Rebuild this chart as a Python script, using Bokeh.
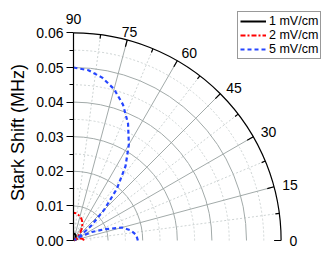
import numpy as np
from bokeh.plotting import figure
from bokeh.models import (FixedTicker, PrintfTickFormatter, Legend, LegendItem,
                          ColumnDataSource, Range1d, LinearAxis)
from bokeh.core.properties import value
from bokeh.embed import file_html
from bokeh.resources import INLINE

# ---- data ----
angles_deg = [0, 5, 10, 15, 20, 25, 30, 32, 35, 40, 45, 50, 55, 60, 65, 70, 75, 80, 85, 90]
shift_1 = [0.00074, 0.00073, 0.00067, 0.00058, 0.00038, 0.00023, 0.00008, 0.0, 0.0001, 0.00027,
           0.0005, 0.00078, 0.00105, 0.00128, 0.00149, 0.00167, 0.00181, 0.00191, 0.00198, 0.0020]
shift_2 = [0.0030, 0.0029, 0.0027, 0.0023, 0.0015, 0.0009, 0.0003, 0.0, 0.0004, 0.0011,
           0.0020, 0.0031, 0.0042, 0.0051, 0.0060, 0.0067, 0.0072, 0.0076, 0.0079, 0.0080]
shift_5 = [0.0186, 0.0182, 0.0168, 0.0145, 0.0095, 0.0058, 0.0020, 0.0003, 0.0025, 0.0067,
           0.0125, 0.0195, 0.0262, 0.0320, 0.0373, 0.0418, 0.0453, 0.0478, 0.0494, 0.0500]
series_labels = ["1 mV/cm", "2 mV/cm", "5 mV/cm"]
radial_ticks = [0.0, 0.01, 0.02, 0.03, 0.04, 0.05, 0.06]
radial_minor = [0.005, 0.015, 0.025, 0.035, 0.045, 0.055]
angle_ticks = [0, 15, 30, 45, 60, 75, 90]
angle_minor = [7.5, 22.5, 37.5, 52.5, 67.5, 82.5]
r_max = 0.06

FONT = "Liberation Sans"
S = 3460.0  # px per data unit
W, H = 332, 254
OX, OY = 73, 240  # page position of the origin
TOP = 10           # frame top
x_end = (W - OX) / S
y_start = -(H - OY) / S
y_end = (OY - TOP) / S

p = figure(width=W, height=H, output_backend="svg", toolbar_location=None,
           x_axis_location=None, y_axis_location="left",
           x_range=Range1d(0, x_end), y_range=Range1d(y_start, y_end),
           min_border_left=OX, min_border_right=0, min_border_top=TOP, min_border_bottom=0)
p.outline_line_color = None
p.grid.visible = False
p.background_fill_color = "white"

# y axis (radial)
ax = p.yaxis[0]
ax.bounds = (0, r_max)
ax.ticker = FixedTicker(ticks=radial_ticks, minor_ticks=radial_minor)
ax.formatter = PrintfTickFormatter(format="%.2f")
ax.axis_line_color = "black"
ax.axis_line_width = 1.2
ax.major_tick_line_color = "black"
ax.minor_tick_line_color = "black"
ax.major_tick_out = 7
ax.major_tick_in = 0
ax.minor_tick_out = 4
ax.minor_tick_in = 0
ax.major_label_standoff = 3
ax.major_label_text_font = FONT
ax.major_label_text_font_size = "14px"
ax.major_label_text_color = "black"
ax.axis_label = "Stark Shift (MHz)"
ax.axis_label_text_font = FONT
ax.axis_label_text_font_size = "18px"
ax.axis_label_text_font_style = "normal"
ax.axis_label_text_color = "black"
ax.axis_label_standoff = 5

# top axis carrying the 90-degree label at x = 0 (label pulled down over the frame edge)
top_ax = LinearAxis(ticker=FixedTicker(ticks=[0]), major_label_overrides={0: str(angle_ticks[-1])})
top_ax.axis_line_color = None
top_ax.major_tick_line_color = None
top_ax.minor_tick_line_color = None
top_ax.major_tick_out = 0
top_ax.major_tick_in = 0
top_ax.major_label_standoff = -13
top_ax.major_label_text_font = FONT
top_ax.major_label_text_font_size = "14px"
top_ax.major_label_text_color = "black"
p.add_layout(top_ax, "above")

half = np.pi / 2
# minor grid (dotted)
p.arc(x=0, y=0, radius=radial_minor, start_angle=0, end_angle=half,
      line_color="#cdd3d3", line_width=1, line_dash="2 2")
am = np.radians(angle_minor)
p.segment(x0=0, y0=0, x1=r_max * np.cos(am), y1=r_max * np.sin(am),
          line_color="#cdd3d3", line_width=1, line_dash="2 2")
# major grid (solid)
p.arc(x=0, y=0, radius=radial_ticks[1:-1], start_angle=0, end_angle=half,
      line_color="#a2aaa9", line_width=1)
aM = np.radians(angle_ticks[1:-1])
p.segment(x0=0, y0=0, x1=r_max * np.cos(aM), y1=r_max * np.sin(aM),
          line_color="#a2aaa9", line_width=1)
# outer arc + ticks
p.arc(x=0, y=0, radius=r_max, start_angle=0, end_angle=half, line_color="black", line_width=1.2)
at = np.radians(angle_ticks[:-1])
tl = 7.0 / S
p.segment(x0=r_max * np.cos(at), y0=r_max * np.sin(at),
          x1=(r_max - tl) * np.cos(at), y1=(r_max - tl) * np.sin(at),
          line_color="black", line_width=1.2)
tm = 4.0 / S
p.segment(x0=r_max * np.cos(am), y0=r_max * np.sin(am),
          x1=(r_max - tm) * np.cos(am), y1=(r_max - tm) * np.sin(am),
          line_color="black", line_width=1.2)

# angle labels (0..75; 90 sits on the top axis)
lab_r = r_max + 8.5 / S
for a in angle_ticks[:-1]:
    t = np.radians(a)
    align = "center" if a >= 75 else "left"
    base = "middle" if a <= 15 else "alphabetic"
    p.text(x=[lab_r * np.cos(t)], y=[lab_r * np.sin(t)], text=[str(a)],
           text_font=value(FONT), text_font_size="14px", text_color="black",
           text_align=align, text_baseline=base)

# curves
th = np.radians(angles_deg)
styles = [("black", "solid", 2), ("#ff0000", "5 2 2 2", 2), ("#2646ff", "4 3", 2.2)]
renderers = []
for vals, (col, dash, lw) in zip([shift_1, shift_2, shift_5], styles):
    r = np.array(vals)
    src = ColumnDataSource(dict(x=r * np.cos(th), y=r * np.sin(th)))
    rr = p.line("x", "y", source=src, line_color=col, line_dash=dash, line_width=lw)
    renderers.append(rr)

legend = Legend(items=[LegendItem(label=l, renderers=[r]) for l, r in zip(series_labels, renderers)],
                location=(237 - OX, H - 59))
legend.label_text_font = FONT
legend.label_text_font_size = "12.5px"
legend.label_text_color = "black"
legend.glyph_width = 26
legend.glyph_height = 14
legend.label_height = 14
legend.label_standoff = 3
legend.spacing = 0
legend.padding = 2
legend.margin = 0
legend.border_line_color = "#333333"
legend.border_line_width = 1
legend.background_fill_color = "white"
legend.background_fill_alpha = 1
p.add_layout(legend, "center")

open("out.html", "w").write(file_html(p, INLINE))
